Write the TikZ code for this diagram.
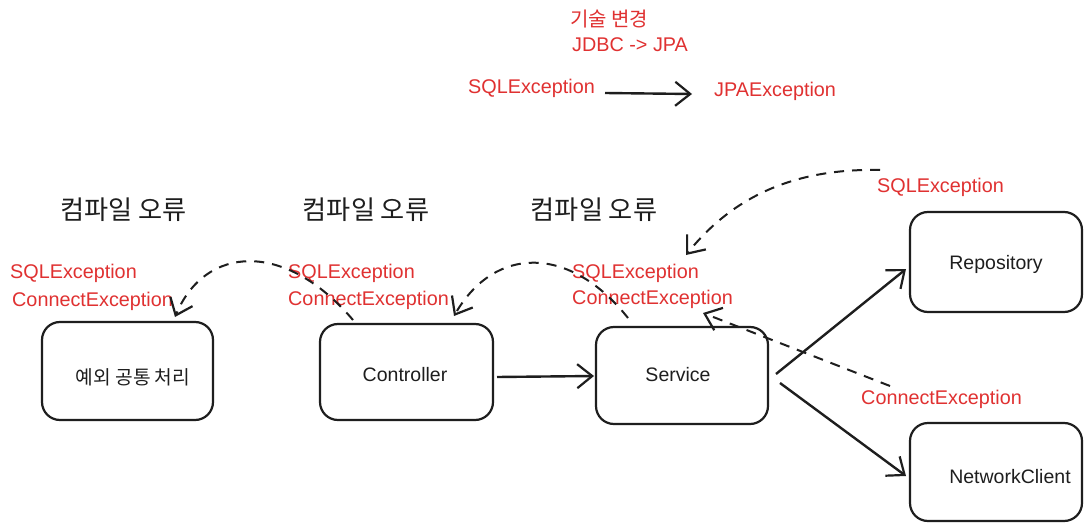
\documentclass[tikz,border=0pt]{standalone}
\usepackage{fontspec}
\setmainfont{Liberation Sans}
\newfontfamily\kr{Noto Sans CJK KR}
\usetikzlibrary{arrows.meta}
\definecolor{exred}{HTML}{E03131}
\definecolor{ink}{HTML}{1E1E1E}
\begin{document}
\begin{tikzpicture}[x=1pt,y=-1pt,
  box/.style={draw=ink, line width=2.2pt, rounded corners=18pt, inner sep=0pt},
  redtxt/.style={text=exred, font=\fontsize{19.8}{22}\selectfont, anchor=base west, inner sep=0pt},
  boxtxt/.style={text=ink, font=\fontsize{19.5}{22}\selectfont, inner sep=0pt},
  krhead/.style={text=ink, font=\kr\fontsize{26.2}{30}\selectfont, inner sep=0pt},
  tipx/.style={-{Straight Barb[length=15pt,width=24pt,line width=2.2pt]}},
  flow/.style={draw=ink, line width=2.4pt, tipx},
  excdash/.style={draw=ink, line width=2pt, dash pattern=on 10pt off 8pt, tipx}
]
\useasboundingbox[fill=white] (0,0) rectangle (1092,532);

% boxes
\node[box, minimum width=171pt, minimum height=98pt] (hdl) at (127.5,371) {};
\node[box, minimum width=173pt, minimum height=96pt] (ctrl) at (406.5,372) {};
\node[box, minimum width=172pt, minimum height=97pt] (svc) at (682,375.5) {};
\node[box, minimum width=172pt, minimum height=100pt] (repo) at (996,262) {};
\node[box, minimum width=172pt, minimum height=98pt] (nc) at (996,472) {};

% box texts
\node[boxtxt, font=\kr\fontsize{19.2}{22}\selectfont] (hdlT) at (133,377) {예외 공통 처리};
\node[boxtxt] (ctrlT) at (405,375) {Controller};
\node[boxtxt] (svcT) at (678,375) {Service};
\node[boxtxt] (repoT) at (996,264) {Repository};
\node[boxtxt] (ncT) at (1010,477) {NetworkClient};

% headings
\node[krhead] (h1) at (123.5,210) {컴파일 오류};
\node[krhead] (h2) at (366,210) {컴파일 오류};
\node[krhead] (h3) at (594,210) {컴파일 오류};

% top note
\node[redtxt, font=\kr\fontsize{20}{22}\selectfont, anchor=west] (tech) at (570,19) {기술 변경};
\node[redtxt] (jdbc) at (572,52) {JDBC -> JPA};
\node[redtxt] (sqlT) at (468,94) {SQLException};
\node[redtxt] (jpaT) at (714,97) {JPAException};

% exception labels
\node[redtxt] (l1a) at (10,278) {SQLException};
\node[redtxt] (l1b) at (12,306) {ConnectException};
\node[redtxt] (l2a) at (288,278) {SQLException};
\node[redtxt] (l2b) at (288,305) {ConnectException};
\node[redtxt] (l3a) at (572,278) {SQLException};
\node[redtxt] (l3b) at (572,304) {ConnectException};
\node[redtxt] (rsql) at (877,192) {SQLException};
\node[redtxt] (rcon) at (861,404) {ConnectException};

% connector end points
\coordinate (t1) at (605,93);
\coordinate (t2) at (692,94);
\coordinate (c1) at (497,377);
\coordinate (s1) at (594,376);
\coordinate (s2) at (776,374);
\coordinate (r1) at (906,269);
\coordinate (s3) at (780,383);
\coordinate (n1) at (906,476);
\coordinate (rs) at (880,170);
\coordinate (l3top) at (686,255);
\coordinate (rc) at (890,386);
\coordinate (l3bend) at (703,313);
\coordinate (svctop) at (628,318);
\coordinate (l2end) at (454,316);
\coordinate (ctrltop) at (353,320);
\coordinate (l1end) at (175,317);

% solid arrows
\draw[flow] (t1) -- (t2);
\draw[flow] (c1) -- (s1);
\draw[flow] (s2) -- (r1);
\draw[flow] (s3) -- (n1);

% dashed propagation arrows
\draw[excdash] (rs) .. controls (790,168) and (730,200) .. (l3top);
\draw[excdash] (rc) -- (l3bend);
\draw[excdash] (svctop) .. controls (570,245) and (495,245) .. (l2end);
\draw[excdash] (ctrltop) .. controls (285,240) and (205,245) .. (l1end);
\end{tikzpicture}
\end{document}
